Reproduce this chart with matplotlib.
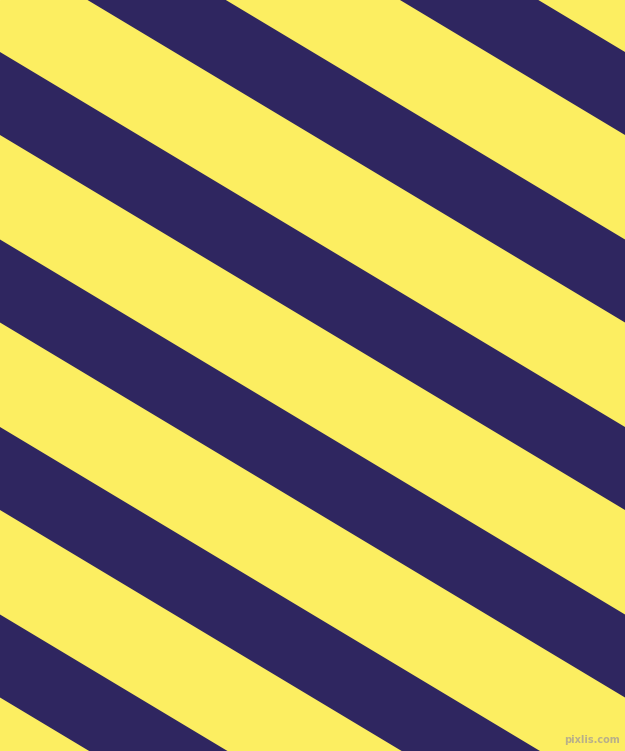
import numpy as np
import matplotlib
matplotlib.use('Agg')
import matplotlib.pyplot as plt
from matplotlib.patches import Polygon

W, H = 625, 751

# stripe pattern
yellow = '#FCEE61'
navy = '#2F2660'
slope = 0.6                 # vertical drop per pixel across
stripe_top = [-323, -135.5, 52, 239.5, 427, 614.5]   # top edge of each dark band at x=0
stripe_width = 83           # vertical thickness of a dark band
watermark = 'pixlis.com'

fig = plt.figure(figsize=(W / 100, H / 100), dpi=100)
ax = fig.add_axes([0, 0, 1, 1])
ax.set_xlim(0, W)
ax.set_ylim(H, 0)
ax.axis('off')
ax.add_patch(plt.Rectangle((0, 0), W, H, color=yellow, zorder=0))

for y0 in stripe_top:
    pts = [(0, y0), (W, y0 + slope * W),
           (W, y0 + slope * W + stripe_width), (0, y0 + stripe_width)]
    ax.add_patch(Polygon(pts, closed=True, color=navy, lw=0, zorder=1))

ax.text(W - 5, H - 6, watermark, ha='right', va='bottom', fontsize=7,
        color='#b8b08a', fontweight='bold', zorder=2)

fig.savefig('out.png', dpi=100)
